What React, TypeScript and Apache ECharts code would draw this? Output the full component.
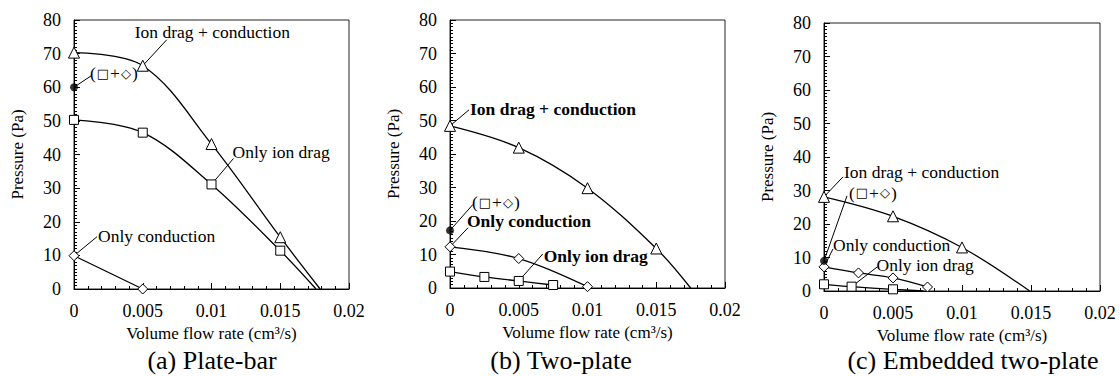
import React, { useEffect, useRef } from "react";
import * as echarts from "echarts";

const FONT = "Liberation Serif";

const xTickLabels = ["0", "0.005", "0.01", "0.015", "0.02"];
const yTickLabels = ["0", "10", "20", "30", "40", "50", "60", "70", "80"];
const xAxisTitle = "Volume flow rate (cm³/s)";
const yAxisTitle = "Pressure (Pa)";
const panelTitles = ["(a) Plate-bar", "(b) Two-plate", "(c) Embedded two-plate"];
const sumLabel = "({s|\u25A1}+{s|\u25C7})";

// Panel (a) Plate-bar
const aIonCond = [[0, 70.3], [0.005, 66.4], [0.01, 43.1], [0.015, 15.4]];
const aIonCondZero = [0.0179, 0];
const aIon = [[0, 50.3], [0.005, 46.5], [0.01, 31.1], [0.015, 11.4]];
const aIonZero = [0.0176, 0];
const aCond = [[0, 9.9], [0.005, 0]];
const aSum = [[0, 60]];

// Panel (b) Two-plate
const bIonCond = [[0, 48.4], [0.005, 41.9], [0.01, 29.8], [0.015, 11.8]];
const bIonCondZero = [0.0175, 0];
const bCond = [[0, 12.3], [0.005, 8.8], [0.01, 0.4]];
const bIon = [[0, 4.9], [0.0025, 3.3], [0.005, 2.1], [0.0075, 0.9]];
const bSum = [[0, 17.2]];

// Panel (c) Embedded two-plate
const cIonCond = [[0, 28.1], [0.005, 22.3], [0.01, 13]];
const cIonCondZero = [0.0149, 0];
const cCond = [[0, 7.2], [0.0025, 5.4], [0.005, 3.9], [0.0075, 1.2]];
const cIon = [[0, 2], [0.002, 1.3], [0.005, 0.5]];
const cIonZero = [0.0072, 0];
const cSum = [[0, 9]];

const grids = [
  { left: 74, top: 20, width: 275, height: 269 },
  { left: 450, top: 20, width: 275, height: 268 },
  { left: 824, top: 23, width: 276, height: 268 },
];
const titleCenters = [[212, 360], [561, 360], [973, 360]];

// annotations: anchor point in data, leader end offset, text offset (left/middle)
const annotations = [
  { p: 0, text: "Ion drag + conduction", at: [0.005, 66.4], lead: [24, -26], txt: [-8, -34], bold: false },
  { p: 0, text: sumLabel, at: [0, 60], lead: [18, -12], txt: [16, -14], bold: false },
  { p: 0, text: "Only ion drag", at: [0.01, 31.1], lead: [22, -26], txt: [21, -32], bold: false },
  { p: 0, text: "Only conduction", at: [0, 9.9], lead: [23, -19], txt: [24, -20], bold: false },
  { p: 1, text: "Ion drag + conduction", at: [0, 48.4], lead: [19, -16], txt: [20, -17], bold: true },
  { p: 1, text: sumLabel, at: [0, 17.2], lead: [23, -26], txt: [22, -28], bold: false },
  { p: 1, text: "Only conduction", at: [0, 12.3], lead: [18, -19], txt: [17, -26], bold: true },
  { p: 1, text: "Only ion drag", at: [0.005, 2.1], lead: [24, -27], txt: [25, -25], bold: true },
  { p: 2, text: "Ion drag + conduction", at: [0, 28.1], lead: [19, -20], txt: [20, -25], bold: false },
  { p: 2, text: sumLabel, at: [0, 9], lead: [23, -65], txt: [25, -68], bold: false },
  { p: 2, text: "Only conduction", at: [0, 7.2], lead: [9, -18], txt: [9, -22], bold: false },
  { p: 2, text: "Only ion drag", at: [0.002, 1.3], lead: [26, -20], txt: [25, -22], bold: false },
];

const panels = [
  { tri: aIonCond, triZero: aIonCondZero, sq: aIon, sqZero: aIonZero, dia: aCond, diaZero: null, sum: aSum },
  { tri: bIonCond, triZero: bIonCondZero, sq: bIon, sqZero: null, dia: bCond, diaZero: null, sum: bSum },
  { tri: cIonCond, triZero: cIonCondZero, sq: cIon, sqZero: cIonZero, dia: cCond, diaZero: null, sum: cSum },
];

function lineSeries(i: number, pts: number[][], zero: number[] | null, symbol: string, size: number) {
  const data: any[] = pts.map((p) => ({ value: p }));
  if (zero) data.push({ value: zero, symbol: "none" });
  return {
    type: "line",
    xAxisIndex: i,
    yAxisIndex: i,
    data,
    smooth: 0.35,
    symbol,
    symbolSize: size,
    showSymbol: true,
    lineStyle: { color: "#000", width: 1.3 },
    itemStyle: { color: "#fff", borderColor: "#000", borderWidth: 1 },
    z: 3,
  };
}

export default function App() {
  const ref = useRef<HTMLDivElement>(null);
  useEffect(() => {
    document.body.style.margin = "0";
    const chart = echarts.init(ref.current!, null, { renderer: "svg" });
    const xAxes = grids.map((_, i) => ({
      type: "value",
      gridIndex: i,
      min: 0,
      max: 0.02,
      interval: 0.005,
      name: xAxisTitle,
      nameLocation: "middle",
      nameGap: 35,
      nameTextStyle: { fontFamily: FONT, fontSize: 17, color: "#000" },
      axisLine: { show: true, lineStyle: { color: "#000", width: 1 } },
      axisTick: { show: true, inside: true, length: 6, lineStyle: { color: "#000" } },
      minorTick: { show: true, splitNumber: 5, length: 3, lineStyle: { color: "#000" } },
      splitLine: { show: false },
      axisLabel: {
        fontFamily: FONT,
        fontSize: 18,
        color: "#000",
        margin: 13,
        formatter: (v: number) => xTickLabels[Math.round(v / 0.005)],
      },
    }));
    const yAxes = grids.map((_, i) => ({
      type: "value",
      gridIndex: i,
      min: 0,
      max: 80,
      interval: 10,
      name: yAxisTitle,
      nameLocation: "middle",
      nameGap: 48,
      nameTextStyle: { fontFamily: FONT, fontSize: 17, color: "#000" },
      axisLine: { show: true, lineStyle: { color: "#000", width: 1 } },
      axisTick: { show: true, inside: true, length: 6, lineStyle: { color: "#000" } },
      minorTick: { show: true, splitNumber: 10, length: 3, lineStyle: { color: "#000" } },
      splitLine: { show: false },
      axisLabel: {
        fontFamily: FONT,
        fontSize: 18,
        color: "#000",
        margin: 13,
        formatter: (v: number) => yTickLabels[Math.round(v / 10)],
      },
    }));
    const series: any[] = [];
    panels.forEach((p, i) => {
      series.push(lineSeries(i, p.tri, p.triZero, "triangle", 11));
      series.push(lineSeries(i, p.sq, p.sqZero, "rect", 9));
      series.push(lineSeries(i, p.dia, p.diaZero, "diamond", 10));
      series.push({
        type: "scatter",
        xAxisIndex: i,
        yAxisIndex: i,
        data: p.sum,
        symbol: "circle",
        symbolSize: 8,
        itemStyle: { color: "#000" },
        z: 4,
      });
    });
    chart.setOption({
      animation: false,
      backgroundColor: "#fff",
      grid: grids.map((g) => ({ ...g, show: true, borderColor: "#222", borderWidth: 1, backgroundColor: "transparent" })),
      xAxis: xAxes,
      yAxis: yAxes,
      series,
    });
    const graphics: any[] = [];
    annotations.forEach((a) => {
      const pt = chart.convertToPixel({ xAxisIndex: a.p, yAxisIndex: a.p } as any, a.at) as number[];
      graphics.push({
        type: "line",
        shape: { x1: pt[0], y1: pt[1], x2: pt[0] + a.lead[0], y2: pt[1] + a.lead[1] },
        style: { stroke: "#000", lineWidth: 1 },
        z: 1,
      });
      graphics.push({
        type: "text",
        x: pt[0] + a.txt[0],
        y: pt[1] + a.txt[1],
        style: {
          text: a.text,
          fontFamily: FONT,
          fontSize: 17.5,
          fontWeight: a.bold ? "bold" : "normal",
          fill: "#000",
          align: "left",
          verticalAlign: "middle",
          rich: {
            s: { fontFamily: "DejaVu Sans", fontSize: 13, fill: "#000", padding: [0, 1, 0, 1] },
          },
        },
        z: 1,
      });
    });
    panelTitles.forEach((t, i) => {
      graphics.push({
        type: "text",
        x: titleCenters[i][0],
        y: titleCenters[i][1],
        style: {
          text: t,
          fontFamily: FONT,
          fontSize: 26,
          fill: "#000",
          align: "center",
          verticalAlign: "middle",
        },
      });
    });
    chart.setOption({ graphic: graphics });
    return () => chart.dispose();
  }, []);
  return <div ref={ref} style={{ width: 1120, height: 376 }} />;
}
